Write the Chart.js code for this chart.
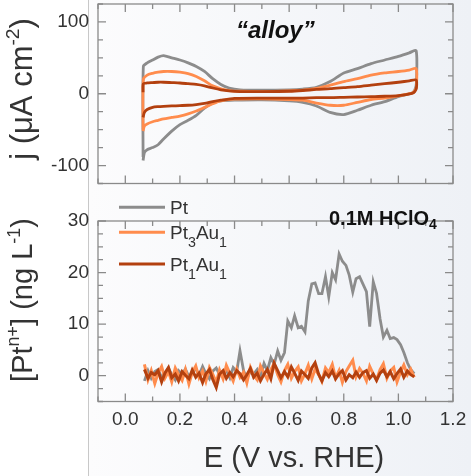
<!DOCTYPE html>
<html>
<head>
<meta charset="utf-8">
<script src="https://cdn.jsdelivr.net/npm/chart.js@4"></script>
<style>
  html, body { margin: 0; padding: 0; background: #fff; }
  #wrap {
    position: relative; width: 471px; height: 476px; overflow: hidden;
    background: linear-gradient(to right, #fff 0, #fff 88px, #c8c8c8 88px, #c8c8c8 89px, #fcfcfd 89px, #eef1f6 100%);
  }
  canvas { position: absolute; left: 0; top: 0; }
</style>
</head>
<body>
<div id="wrap">
  <canvas id="cv" width="471" height="476"></canvas>
  <canvas id="icp" width="471" height="476"></canvas>
</div>
<script>
// series names and colours
const seriesNames = ['Pt', 'Pt3Au1', 'Pt1Au1'];
const seriesColors = ['#8c8c8c', '#ff8c4d', '#b3400f'];

// top panel: cyclic voltammograms, anodic sweep then cathodic sweep
const cvE = [0.065, 0.066, 0.08, 0.10, 0.12, 0.14, 0.17, 0.20, 0.23, 0.26, 0.29, 0.32, 0.35, 0.38,
  0.42, 0.50, 0.60, 0.65, 0.70, 0.75, 0.80, 0.85, 0.90, 0.95, 1.00, 1.04, 1.065,
  1.066, 1.06, 1.05, 1.00, 0.95, 0.90, 0.85, 0.80, 0.75, 0.70, 0.65, 0.60, 0.50, 0.40,
  0.35, 0.32, 0.29, 0.26, 0.23, 0.20, 0.17, 0.14, 0.12, 0.10, 0.08, 0.07, 0.065];
const ptJ = [-88, 38, 43, 47, 51, 53, 50, 47, 43, 38, 31, 21, 13, 8,
  5.5, 5, 5.5, 6.5, 9, 17, 29, 35, 42, 47, 52, 57, 60,
  15, 5, 1, -4, -11, -16, -23, -29, -26, -17, -12, -10, -8.5, -9,
  -10, -13, -20, -30, -37, -43, -52, -63, -71, -75, -78, -82, -93];
const pt3au1J = [-50, 20, 26, 28.5, 30, 31, 31, 30, 28, 24, 18, 11, 7, 4.5,
  3.5, 3, 4, 5, 7.5, 12, 17, 21, 26, 29, 31, 33, 35,
  10, 4, 1, -3, -6, -8, -12, -16, -16, -13, -9, -8, -7, -7.5,
  -10, -14, -19, -24, -28, -31, -33, -35, -37, -39, -42, -45, -52];
const pt1au1J = [2, 14, 15, 15.5, 16, 16, 15.5, 15, 14, 13, 11, 8, 5.5, 4,
  3, 3, 3.5, 4.5, 6, 7, 8.5, 10, 12, 14, 16, 18, 19,
  8, 3, 0.5, -2.5, -3.5, -4, -4.5, -5, -5.5, -5.5, -6, -6, -6, -6.5,
  -9, -11, -13.5, -15, -16, -16.5, -17, -17.5, -18, -19, -22, -26, -33];

// bottom panel: dissolved Pt measured downstream
const icpE = [0.070, 0.083, 0.095, 0.108, 0.120, 0.133, 0.145, 0.158, 0.170, 0.183,
  0.195, 0.208, 0.220, 0.233, 0.245, 0.258, 0.270, 0.283, 0.295, 0.308,
  0.320, 0.333, 0.345, 0.358, 0.370, 0.383, 0.395, 0.408, 0.420, 0.433,
  0.445, 0.458, 0.470, 0.483, 0.495, 0.508, 0.520, 0.533, 0.545, 0.558,
  0.570, 0.583, 0.595, 0.608, 0.620, 0.633, 0.645, 0.658, 0.670, 0.683,
  0.695, 0.708, 0.720, 0.733, 0.745, 0.758, 0.770, 0.783, 0.795, 0.808,
  0.820, 0.833, 0.845, 0.858, 0.870, 0.883, 0.895, 0.908, 0.920, 0.933,
  0.945, 0.958, 0.970, 0.983, 0.995, 1.008, 1.020, 1.033, 1.045, 1.058];
const ptConc = [-1.0, 1.0, -0.5, 0.8, 1.2, -0.3, 0.5, 1.5, 0.2, -0.8,
  1.0, 0.3, 1.3, -0.2, 0.6, 1.4, 0.1, 1.8, 0.4, -0.6,
  0.9, 1.5, 0.2, 0.7, 1.1, -0.4, 1.6, 0.8, 4.8, 1.0,
  -0.5, 0.8, 0.3, 1.2, -0.2, 2.4, 1.0, 3.5, 2.2, 4.8,
  3.0, 4.5, 10.6, 9.3, 11.6, 9.3, 9.6, 8.5, 14.5, 17.8,
  18.0, 15.9, 15.9, 19.2, 15.3, 20.0, 18.6, 23.6, 22.2, 21.4,
  19.5, 16.2, 18.8, 19.2, 17.8, 16.3, 9.5, 18.2, 16.0, 11.0,
  7.5, 8.8, 7.2, 7.4, 7.0, 6.0, 4.5, 2.5, 1.2, 0.4];
const pt3au1Conc = [2.2, -0.8, 1.0, -1.5, 0.5, 1.8, -0.5, 0.8, -1.2, 1.5,
  0.2, -0.9, 1.2, -1.6, 0.6, 1.9, -0.4, 0.9, -1.1, 1.6,
  0.3, -1.3, 1.1, -0.6, 2.0, 0.4, -1.0, 1.3, -0.3, 0.7,
  -1.4, 1.6, 0.1, -0.8, 1.9, 0.5, -0.7, 1.2, 2.4, 0.2,
  -1.2, 1.0, 2.2, -0.5, 0.8, 1.7, -1.0, 0.4, 2.0, -0.6,
  1.3, 0.2, -1.1, 1.5, 0.6, 2.2, -0.4, 1.0, -1.3, 0.8,
  1.9, 3.0, -0.2, 1.4, 0.5, -1.0, 1.8, 0.3, -0.8, 1.2,
  2.3, -0.5, 0.9, 1.6, -1.2, 0.7, 2.1, 0.2, 1.3, -0.3];
const pt1au1Conc = [1.2, -0.5, 0.6, 0.2, 1.0, -1.2, 0.5, 1.6, -0.4, 0.3,
  -1.0, 0.8, 0.1, -0.6, 1.1, -0.3, 0.5, -1.3, 0.4, 1.2,
  -0.7, -2.3, 0.3, 1.0, -0.5, 0.6, -0.2, 1.0, 0.4, -0.8,
  0.2, 1.4, -0.3, 0.5, -1.0, 0.3, 1.2, -0.6, 2.4, 1.0,
  -0.4, 0.8, -0.2, 1.7, 0.5, -0.9, 0.9, 0.2, -0.5, 1.5,
  2.5, 0.3, -1.0, 0.6, -0.2, 0.9, -0.6, 0.4, 1.0, -0.8,
  0.2, -0.4, 0.7, -0.3, 0.6, 1.0, -0.5, 0.3, -0.9, 0.5,
  1.1, -0.2, 0.8, -0.6, 0.4, 1.3, -0.3, 0.9, 0.2, -0.2];

// axes
const xLabels = [0.0, 0.2, 0.4, 0.6, 0.8, 1.0, 1.2];
const cvYLabels = [-100, 0, 100];
const icpYLabels = [0, 10, 20, 30];

const FONT = '"Liberation Sans", Arial, sans-serif';
const TXT = '#333';
const FRAME = '#8a8a8a';

function pts(xs, ys) {
  return xs.map((x, i) => ({ x: x, y: ys[i] }));
}
function hasLabel(list, v) {
  return list.some(l => Math.abs(l - v) < 1e-6);
}

// draws text with sub/superscripts, baseline at (x,y)
function drawRich(ctx, parts, x, y, size, opt) {
  ctx.save();
  ctx.translate(x, y);
  if (opt.rot) ctx.rotate(opt.rot);
  const font = s => `${opt.style || 'normal'} ${opt.weight || 'normal'} ${s}px ${FONT}`;
  let w = 0;
  const pieces = parts.map(p => {
    const s = size * (p[2] || 1);
    ctx.font = font(s);
    const piece = { t: p[0], s: s, dy: size * (p[1] || 0), x: w };
    w += ctx.measureText(p[0]).width;
    return piece;
  });
  const x0 = opt.align === 'center' ? -w / 2 : 0;
  ctx.fillStyle = opt.color || TXT;
  ctx.textBaseline = 'alphabetic';
  ctx.textAlign = 'left';
  pieces.forEach(p => {
    ctx.font = font(p.s);
    ctx.fillText(p.t, x0 + p.x, p.dy);
  });
  ctx.restore();
}

// box with inward ticks on all four sides
const framePlugin = {
  id: 'frame',
  afterDatasetsDraw(chart, args, opts) {
    const { ctx, chartArea: a, scales } = chart;
    const x = scales.x, y = scales.y;
    ctx.save();
    ctx.strokeStyle = FRAME;
    ctx.lineWidth = 1.3;
    ctx.strokeRect(a.left, a.top, a.right - a.left, a.bottom - a.top);
    ctx.beginPath();
    x.ticks.forEach(t => {
      const px = x.getPixelForValue(t.value);
      const len = hasLabel(xLabels, t.value) ? 8 : 5;
      ctx.moveTo(px, a.bottom); ctx.lineTo(px, a.bottom - len);
      ctx.moveTo(px, a.top); ctx.lineTo(px, a.top + len);
    });
    y.ticks.forEach(t => {
      const py = y.getPixelForValue(t.value);
      const len = hasLabel(opts.yLabels, t.value) ? 8 : 5;
      ctx.moveTo(a.left, py); ctx.lineTo(a.left + len, py);
      ctx.moveTo(a.right, py); ctx.lineTo(a.right - len, py);
    });
    ctx.stroke();
    ctx.restore();
  }
};

// titles, annotations and legend
const textPlugin = {
  id: 'texts',
  afterDraw(chart, args, opts) {
    opts.draw(chart.ctx, chart.chartArea);
  }
};

function baseScales(yMin, yMax, yStep, yLabels, xHeight) {
  return {
    x: {
      type: 'linear', min: -0.1, max: 1.2,
      grid: { display: false, drawTicks: false },
      border: { display: false },
      ticks: {
        display: xHeight > 0, stepSize: 0.1, autoSkip: false, maxRotation: 0, padding: 7,
        color: TXT, font: { family: FONT, size: 19 },
        callback: v => hasLabel(xLabels, v) ? v.toFixed(1) : ''
      },
      afterFit: s => {
        s.height = xHeight;
        s.paddingLeft = 0; s.paddingRight = 0;
      }
    },
    y: {
      min: yMin, max: yMax,
      grid: { display: false, drawTicks: false },
      border: { display: false },
      ticks: {
        stepSize: yStep, autoSkip: false, padding: 9,
        color: TXT, font: { family: FONT, size: 19 },
        callback: v => hasLabel(yLabels, v) ? String(v) : ''
      },
      afterFit: s => {
        s.width = 98;
        s.paddingTop = 0; s.paddingBottom = 0;
      }
    }
  };
}

function lineSet(i, data, tension, width) {
  return {
    label: seriesNames[i], data: data,
    borderColor: seriesColors[i], backgroundColor: seriesColors[i],
    borderWidth: width, pointRadius: 0, tension: tension, fill: false,
    order: 3 - i
  };
}

new Chart(document.getElementById('cv'), {
  type: 'line',
  data: {
    datasets: [
      lineSet(0, pts(cvE, ptJ), 0.25, 2.8),
      lineSet(1, pts(cvE, pt3au1J), 0.25, 2.8),
      lineSet(2, pts(cvE, pt1au1J), 0.25, 2.8)
    ]
  },
  options: {
    responsive: false, animation: false,
    layout: { padding: { left: 0, right: 18, top: 4, bottom: 292.5 } },
    scales: baseScales(-125, 125, 25, cvYLabels, 0),
    plugins: {
      legend: { display: false }, tooltip: { enabled: false },
      frame: { yLabels: cvYLabels },
      texts: {
        draw(ctx, a) {
          drawRich(ctx, [['j (μA cm'], ['-2', -0.42, 0.62], [')']], 32, 89, 31,
            { rot: -Math.PI / 2, align: 'center' });
          drawRich(ctx, [['“alloy”']], 236, 38, 24,
            { weight: 'bold', style: 'italic', color: '#111' });
        }
      }
    }
  },
  plugins: [framePlugin, textPlugin]
});

new Chart(document.getElementById('icp'), {
  type: 'line',
  data: {
    datasets: [
      lineSet(0, pts(icpE, ptConc), 0, 2.8),
      lineSet(1, pts(icpE, pt3au1Conc), 0, 3),
      lineSet(2, pts(icpE, pt1au1Conc), 0, 3)
    ]
  },
  options: {
    responsive: false, animation: false,
    layout: { padding: { left: 0, right: 18, top: 221, bottom: 44.5 } },
    scales: baseScales(-5, 30, 2.5, icpYLabels, 30),
    plugins: {
      legend: { display: false }, tooltip: { enabled: false },
      frame: { yLabels: icpYLabels },
      texts: {
        draw(ctx, a) {
          drawRich(ctx, [['[Pt'], ['n+', -0.45, 0.62], ['] (ng L'], ['-1', -0.42, 0.62], [')']],
            32, 300, 29, { rot: -Math.PI / 2, align: 'center' });
          drawRich(ctx, [['E (V vs. RHE)']], 294, 467, 29, { align: 'center' });
          drawRich(ctx, [['0.1M HClO'], ['4', 0.2, 0.7]], 329, 225, 20,
            { weight: 'bold', color: '#111' });
          // legend
          const rows = [
            [[['Pt']], 207.3],
            [[['Pt'], ['3', 0.42, 0.75], ['Au'], ['1', 0.42, 0.75]], 232.3],
            [[['Pt'], ['1', 0.42, 0.75], ['Au'], ['1', 0.42, 0.75]], 264]
          ];
          rows.forEach((r, i) => {
            ctx.save();
            ctx.strokeStyle = seriesColors[i];
            ctx.lineWidth = 3;
            ctx.beginPath();
            ctx.moveTo(119, r[1]); ctx.lineTo(165, r[1]);
            ctx.stroke();
            ctx.restore();
            drawRich(ctx, r[0], 170, r[1] + 6.8, 19, {});
          });
        }
      }
    }
  },
  plugins: [framePlugin, textPlugin]
});
</script>
</body>
</html>
